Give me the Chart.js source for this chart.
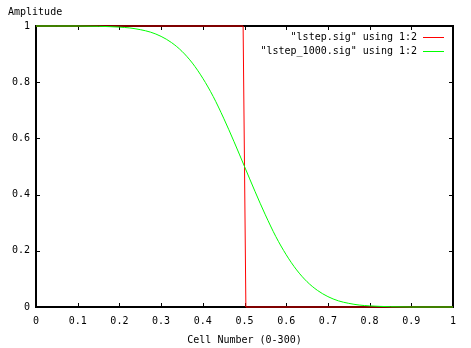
<!DOCTYPE html>
<html>
<head>
<meta charset="utf-8">
<script src="https://cdn.jsdelivr.net/npm/chart.js@4"></script>
<style>
  html, body { margin: 0; padding: 0; background: #fff; }
  #wrap { width: 471px; height: 348px; }
</style>
</head>
<body>
<div id="wrap"><canvas id="sigChart" width="471" height="348"></canvas></div>
<script>
// "lstep.sig" - ideale Stufe
const stepX = [0, 0.4967, 0.5, 0.5033, 1];
const stepY = [1, 1, 0.5, 0, 0];

// "lstep_1000.sig" - geglaettete Stufe
const smoothX = [0, 0.05, 0.1, 0.15, 0.2, 0.225, 0.25, 0.275, 0.3, 0.325, 0.35, 0.375,
  0.4, 0.425, 0.45, 0.475, 0.5, 0.525, 0.55, 0.575, 0.6, 0.625, 0.65, 0.675,
  0.7, 0.725, 0.75, 0.775, 0.8, 0.85, 0.9, 1];
const smoothY = [1, 1, 1, 0.999, 0.996, 0.993, 0.987, 0.978, 0.963, 0.941, 0.91, 0.868,
  0.814, 0.749, 0.672, 0.588, 0.5, 0.412, 0.328, 0.251, 0.186, 0.132, 0.09, 0.059,
  0.037, 0.022, 0.013, 0.007, 0.004, 0.001, 0, 0];

const seriesNames = ['"lstep.sig" using 1:2', '"lstep_1000.sig" using 1:2'];
const seriesColors = ["#ff0000", "#00ff00"];
const xTicks = [0, 0.1, 0.2, 0.3, 0.4, 0.5, 0.6, 0.7, 0.8, 0.9, 1];
const yTicks = [0, 0.2, 0.4, 0.6, 0.8, 1];

const FONT = "DejaVu Sans Mono";

const toPoints = (xs, ys) => xs.map((x, i) => ({ x: x, y: ys[i] }));

// Rahmen, Ticks nach innen, Legende und y-Titel wie bei gnuplot
const gnuplotFrame = {
  id: "gnuplotFrame",
  beforeDatasetsDraw(chart) {
    const { ctx, chartArea: a, scales } = chart;
    ctx.save();
    ctx.strokeStyle = "#000";
    ctx.lineWidth = 1;
    ctx.beginPath();
    const t = 4;
    xTicks.forEach((v) => {
      const px = Math.round(scales.x.getPixelForValue(v)) + 0.5;
      ctx.moveTo(px, a.bottom); ctx.lineTo(px, a.bottom - t);
      ctx.moveTo(px, a.top); ctx.lineTo(px, a.top + t);
    });
    yTicks.forEach((v) => {
      const py = Math.round(scales.y.getPixelForValue(v)) + 0.5;
      ctx.moveTo(a.left, py); ctx.lineTo(a.left + t, py);
      ctx.moveTo(a.right, py); ctx.lineTo(a.right - t, py);
    });
    ctx.stroke();
    ctx.lineWidth = 2;
    ctx.strokeRect(a.left, a.top, a.right - a.left, a.bottom - a.top);
    ctx.restore();
  },
  afterDraw(chart) {
    const { ctx, chartArea: a } = chart;
    ctx.save();
    ctx.font = "10px '" + FONT + "'";
    ctx.fillStyle = "#000";
    ctx.textBaseline = "middle";
    ctx.textAlign = "left";
    ctx.fillText("Amplitude", 8, 12);
    ctx.textAlign = "right";
    seriesNames.forEach((name, i) => {
      const y = a.top + 11 + i * 14;
      ctx.fillStyle = "#000";
      ctx.fillText(name, a.right - 36, y);
      ctx.strokeStyle = seriesColors[i];
      ctx.lineWidth = 1;
      ctx.beginPath();
      ctx.moveTo(a.right - 30, y + 0.5);
      ctx.lineTo(a.right - 9, y + 0.5);
      ctx.stroke();
    });
    ctx.restore();
  },
};

const ctx = document.getElementById("sigChart").getContext("2d");
new Chart(ctx, {
  type: "line",
  data: {
    datasets: [
      {
        label: seriesNames[0],
        data: toPoints(stepX, stepY),
        borderColor: seriesColors[0],
        borderWidth: 1,
        pointRadius: 0,
        tension: 0,
        clip: 3,
        order: 1,
      },
      {
        label: seriesNames[1],
        data: toPoints(smoothX, smoothY),
        borderColor: seriesColors[1],
        borderWidth: 1,
        pointRadius: 0,
        cubicInterpolationMode: "monotone",
        clip: 3,
        order: 0,
      },
    ],
  },
  options: {
    responsive: false,
    animation: false,
    layout: { padding: { left: 0, top: 26, right: 18, bottom: 0 } },
    plugins: {
      legend: { display: false },
      tooltip: { enabled: false },
    },
    scales: {
      x: {
        type: "linear",
        min: 0,
        max: 1,
        afterBuildTicks: (s) => { s.ticks = xTicks.map((v) => ({ value: v })); },
        afterFit: (s) => { s.height = 41; },
        grid: { display: false, drawTicks: false },
        border: { display: false },
        ticks: {
          color: "#000",
          font: { family: FONT, size: 10 },
          padding: 8,
          maxRotation: 0,
          callback: (v) => String(v),
        },
        title: {
          display: true,
          text: "Cell Number (0-300)",
          color: "#000",
          font: { family: FONT, size: 10 },
          padding: { top: 0, bottom: 2 },
        },
      },
      y: {
        min: 0,
        max: 1,
        afterBuildTicks: (s) => { s.ticks = yTicks.map((v) => ({ value: v })); },
        afterFit: (s) => { s.width = 36; },
        grid: { display: false, drawTicks: false },
        border: { display: false },
        ticks: {
          color: "#000",
          font: { family: FONT, size: 10 },
          padding: 6,
          callback: (v) => String(v),
        },
      },
    },
  },
  plugins: [gnuplotFrame],
});
</script>
</body>
</html>
